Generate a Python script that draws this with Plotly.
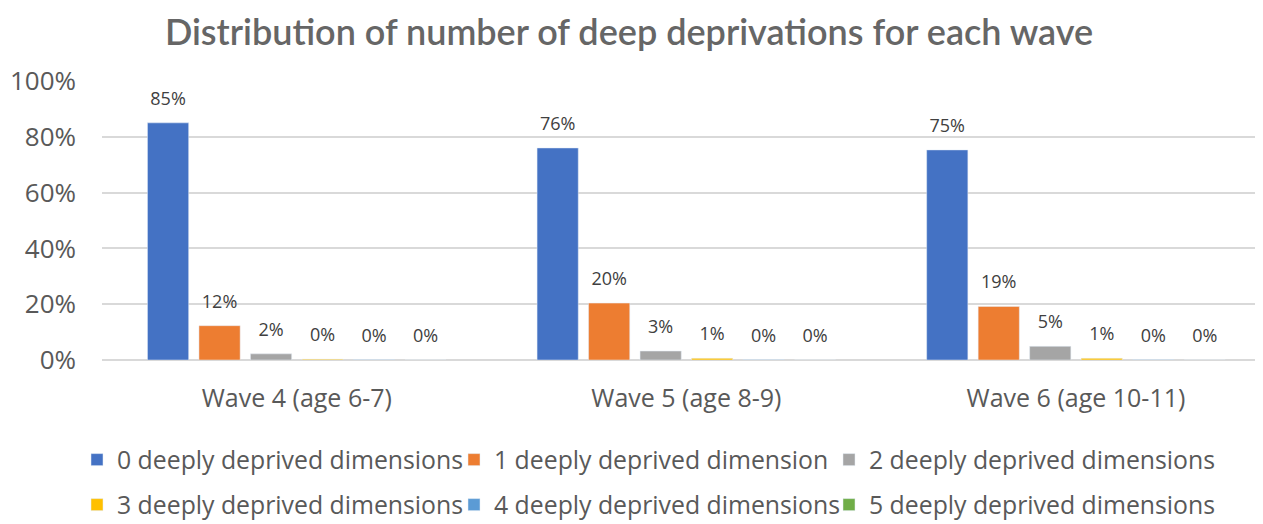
import plotly.graph_objects as go

categories = ["Wave 4 (age 6-7)", "Wave 5 (age 8-9)", "Wave 6 (age 10-11)"]
series_names = [
    "0 deeply deprived dimensions",
    "1 deeply deprived dimension",
    "2 deeply deprived dimensions",
    "3 deeply deprived dimensions",
    "4 deeply deprived dimensions",
    "5 deeply deprived dimensions",
]
dep0 = [0.85, 0.76, 0.753]
dep1 = [0.123, 0.204, 0.192]
dep2 = [0.022, 0.032, 0.049]
dep3 = [0.003, 0.006, 0.006]
dep4 = [0.001, 0.001, 0.001]
dep5 = [0.0, 0.0, 0.0]
series_values = [dep0, dep1, dep2, dep3, dep4, dep5]
colors = ["#4472C4", "#ED7D31", "#A5A5A5", "#FFC000", "#5B9BD5", "#70AD47"]

W, H = 1255, 516
legend_ids = ["legend", "legend2", "legend3", "legend4", "legend5", "legend6"]
legend_x_px = [69, 446, 821, 69, 446, 821]
legend_y_px = [452, 452, 452, 497, 497, 497]

fig = go.Figure()
for i, (name, vals, col) in enumerate(zip(series_names, series_values, colors)):
    fig.add_trace(go.Bar(
        x=categories, y=vals, name=name, marker_color=col,
        offsetgroup=str(i), legend=legend_ids[i],
    ))
for i, vals in enumerate(series_values):
    fig.add_trace(go.Scatter(
        x=categories, y=vals, mode="markers+text", showlegend=False,
        offsetgroup=str(i), hoverinfo="skip",
        marker=dict(size=20, opacity=0),
        text=[f"{v:.0%}" for v in vals], textposition="top center",
        textfont=dict(family="Open Sans", size=18, color="#404040"),
        cliponaxis=False,
    ))

legends = {}
for lid, lx, ly in zip(legend_ids, legend_x_px, legend_y_px):
    legends[lid] = dict(orientation="h", xref="container", yref="container",
                        x=lx / W, xanchor="left", y=1 - ly / H, yanchor="middle",
                        font=dict(size=24.8, color="#595959"), itemclick=False,
                        bgcolor="rgba(0,0,0,0)")

fig.update_layout(
    width=W, height=H,
    margin=dict(l=94, r=0, t=73, b=164, autoexpand=False),
    paper_bgcolor="white", plot_bgcolor="white",
    barmode="group", bargap=0.207, bargroupgap=0.2,
    scattermode="group", scattergap=0.207,
    title=dict(text="Distribution of number of deep deprivations for each wave",
               x=621 / W, xanchor="center", y=1 - 24 / H, yanchor="middle",
               font=dict(family="Lato", size=36, color="#666666", weight=600)),
    font=dict(family="Open Sans", color="#595959"),
    showlegend=True,
    **legends,
)
fig.update_yaxes(range=[0, 1], dtick=0.2, tickformat=".0%",
                 gridcolor="#D9D9D9", gridwidth=1.5, zeroline=True,
                 zerolinecolor="#D9D9D9", zerolinewidth=1.5, showline=False,
                 automargin=False,
                 tickfont=dict(size=26, color="#595959"), ticklabelstandoff=25)
fig.update_xaxes(range=[-0.5, 2.48], showline=False, ticks="outside", ticklen=16,
                 tickcolor="rgba(0,0,0,0)", automargin=False,
                 tickfont=dict(size=25, color="#595959"))

fig.write_html("out.html")
